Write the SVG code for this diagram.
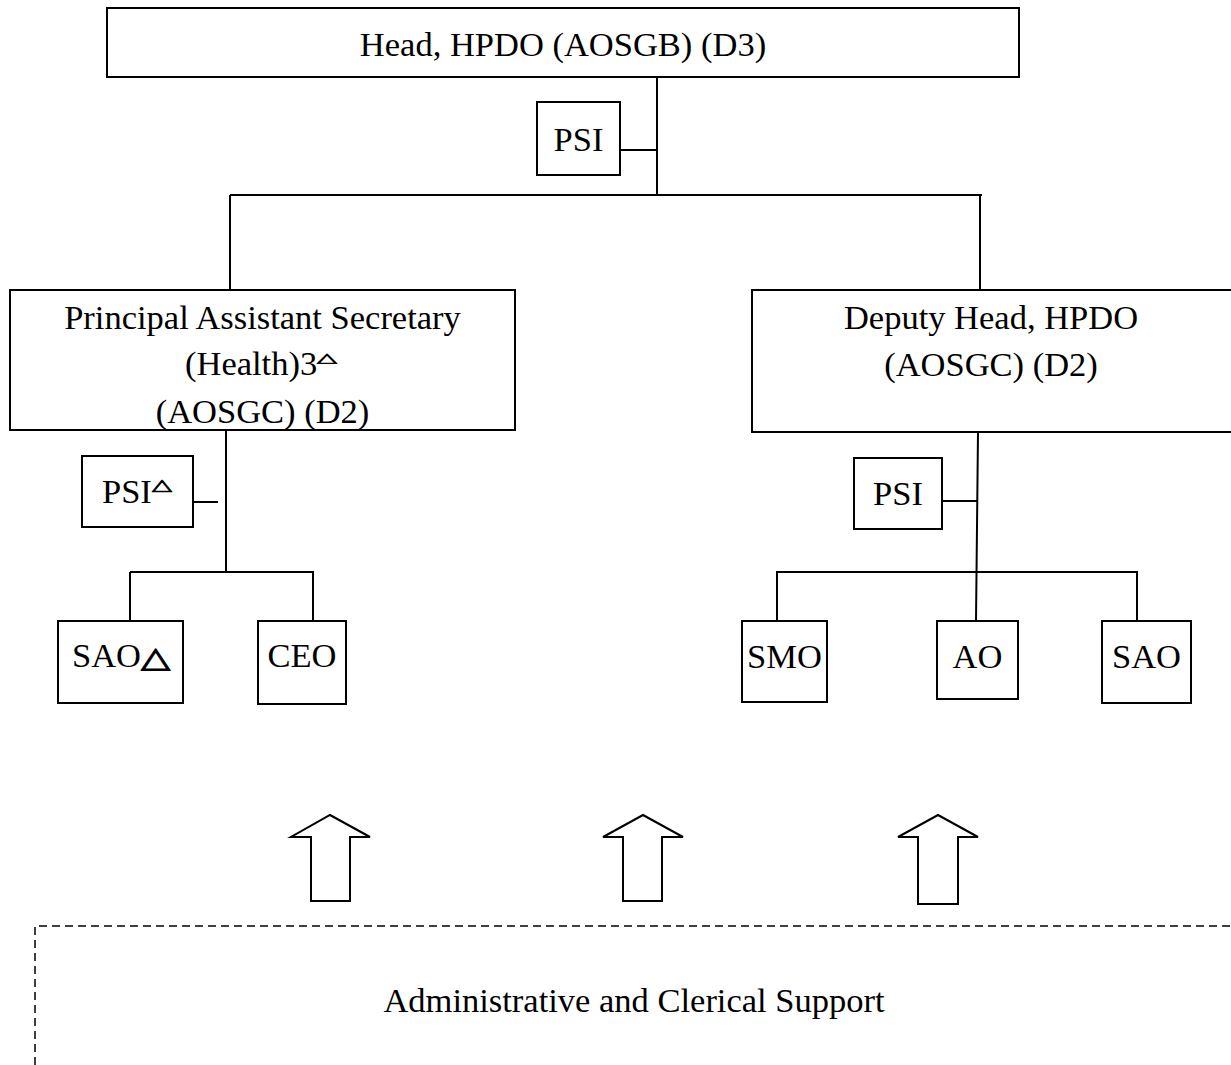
<svg xmlns="http://www.w3.org/2000/svg" width="1231" height="1065" viewBox="0 0 1231 1065">
<style>
.box{fill:#fff;stroke:#000;stroke-width:2}
.ln{fill:none;stroke:#000;stroke-width:2}
.t{font-family:"Liberation Serif","Times New Roman",serif;font-size:34.5px;fill:#000}
.c{text-anchor:middle}
.tri{font-family:"DejaVu Sans",sans-serif;fill:#000;stroke:#000;stroke-linejoin:round}
.arr{fill:#fff;stroke:#000;stroke-width:2;stroke-linejoin:miter}
.dash{fill:none;stroke:#000;stroke-width:1.5;stroke-dasharray:8 5}
</style>
<rect width="1231" height="1065" fill="#fff"/>
<g id="connectors">
<path class="ln" d="M657 77V195M620 150H657M230 195H982M230 195V290M980 195V290"/>
<path class="ln" d="M226 430V572M193 502H218M130 572H314M130 572V621M313 572V621"/>
<path class="ln" d="M978 432L976 621M942 501H978M776 572H1138M777 572V621M1137 572V621"/>
</g>
<g id="head"><rect class="box" x="107" y="8" width="912" height="69"/><text class="t c" x="563" y="56">Head, HPDO (AOSGB) (D3)</text></g>
<g id="psi-top"><rect class="box" x="537" y="102" width="83" height="73"/><text class="t c" x="578.5" y="151">PSI</text></g>
<g id="pas"><rect class="box" x="10" y="290" width="505" height="140"/>
<text class="t c" x="262.5" y="329">Principal Assistant Secretary</text>
<text class="t" x="185" y="375">(Health)3</text>
<text class="tri" font-size="26" stroke-width="1.2" transform="translate(317 362) scale(1 0.5)">△</text>
<text class="t c" x="262.5" y="423">(AOSGC) (D2)</text></g>
<g id="deputy"><rect class="box" x="752" y="290" width="480" height="142"/>
<text class="t c" x="991" y="329">Deputy Head, HPDO</text>
<text class="t c" x="991" y="376">(AOSGC) (D2)</text></g>
<g id="psi-left"><rect class="box" x="82" y="456" width="111" height="71"/><text class="t" x="102" y="503">PSI</text>
<text class="tri" font-size="26" stroke-width="1.1" transform="translate(152 490) scale(1 0.6)">△</text></g>
<g id="psi-right"><rect class="box" x="854" y="458" width="88" height="71"/><text class="t c" x="898" y="505">PSI</text></g>
<g id="sao-left"><rect class="box" x="58" y="621" width="125" height="82"/><text class="t" x="72" y="667">SAO</text>
<text class="tri" font-size="38" stroke-width="1.3" transform="translate(141 667) scale(1 0.75)">△</text></g>
<g id="ceo"><rect class="box" x="258" y="621" width="88" height="83"/><text class="t c" x="302" y="667">CEO</text></g>
<g id="smo"><rect class="box" x="742" y="621" width="85" height="81"/><text class="t c" x="784.5" y="668">SMO</text></g>
<g id="ao"><rect class="box" x="937" y="621" width="81" height="78"/><text class="t c" x="977.5" y="668">AO</text></g>
<g id="sao-right"><rect class="box" x="1102" y="621" width="89" height="82"/><text class="t c" x="1146.5" y="668">SAO</text></g>
<g id="arrows">
<path class="arr" d="M330 815L370 837H350V901H311V837H291Z"/>
<path class="arr" d="M643 815L683 837H662V901H623V837H603Z"/>
<path class="arr" d="M938 815L978 837H958V904H918V837H898Z"/>
</g>
<g id="support"><path class="dash" d="M35 1065V926H1231"/><text class="t c" x="634" y="1012">Administrative and Clerical Support</text></g>
</svg>
